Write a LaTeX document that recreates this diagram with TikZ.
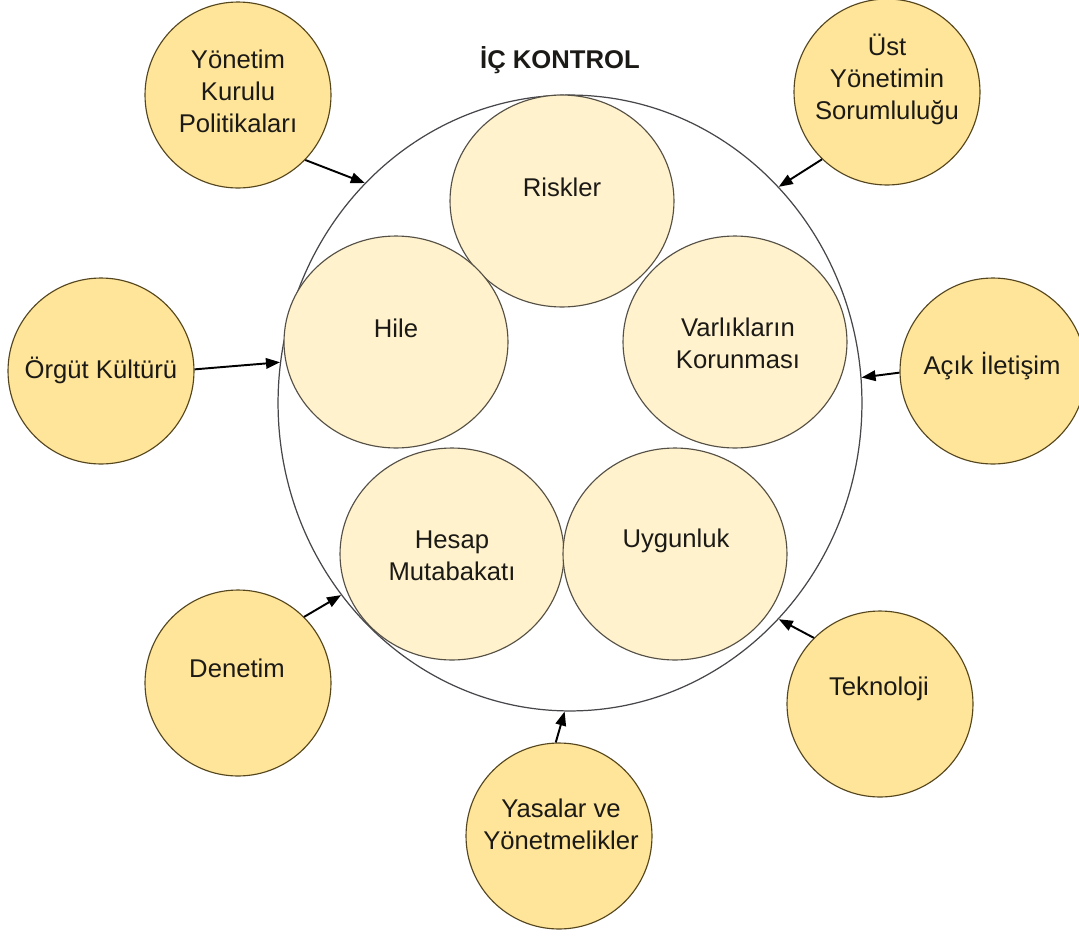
\documentclass[tikz,border=0pt]{standalone}
\usepackage{fontspec}
\setmainfont{Liberation Sans}
\usetikzlibrary{arrows.meta,shapes.geometric}
\definecolor{outerfill}{RGB}{255,229,153}
\definecolor{outerline}{RGB}{85,70,30}
\definecolor{innerfill}{RGB}{255,242,204}
\definecolor{innerline}{RGB}{85,80,70}
\definecolor{bigline}{RGB}{70,70,75}
\definecolor{txt}{RGB}{28,26,22}
\begin{document}
\begin{tikzpicture}[x=0.02cm,y=-0.02cm,
  factor/.style={circle,draw=outerline,fill=outerfill,line width=0.65pt,minimum size=3.72cm,inner sep=0pt},
  area/.style={ellipse,draw=innerline,fill=innerfill,line width=0.65pt,minimum width=4.48cm,minimum height=4.24cm,inner sep=0pt},
  lbl/.style={font=\fontsize{14.6}{18.2}\selectfont,text=txt,align=center,inner sep=0pt},
  arr/.style={-{Triangle[length=8pt,width=6pt]},line width=1.1pt,black}
]
\useasboundingbox (0,0) rectangle (1079,937);

% title
\node[lbl,font=\fontsize{14.6}{18.2}\selectfont\bfseries] (title) at (560,60) {İÇ KONTROL};

% the internal control boundary
\node[ellipse,draw=bigline,line width=0.7pt,minimum width=11.68cm,minimum height=12.32cm,inner sep=0pt] (ic) at (570,403) {};

% inner components
\node[area] (risk) at (562,201) {};
\node[area] (hile) at (396,342) {};
\node[area] (varl) at (735,342) {};
\node[area] (hesap) at (452,554) {};
\node[area] (uyg) at (675,554) {};

\node[lbl] (tRisk) at (562,187) {Riskler};
\node[lbl] (tHile) at (396,328) {Hile};
\node[lbl] (tVarl) at (738,343) {Varlıkların\\Korunması};
\node[lbl] (tHesap) at (452,556) {Hesap\\Mutabakatı};
\node[lbl] (tUyg) at (676,541) {Uygunluk};

% external factors
\node[factor] (yon) at (238,95) {};
\node[factor] (ust) at (887,92) {};
\node[factor] (org) at (101,371) {};
\node[factor] (acik) at (993,371) {};
\node[factor] (den) at (238,683) {};
\node[factor] (tek) at (880,704) {};
\node[factor] (yas) at (559,836) {};

\node[lbl] (tYon) at (238,91) {Yönetim\\Kurulu\\Politikaları};
\node[lbl] (tUst) at (887,79) {Üst\\Yönetimin\\Sorumluluğu};
\node[lbl] (tOrg) at (101,370) {Örgüt Kültürü};
\node[lbl] (tAcik) at (992,366) {Açık İletişim};
\node[lbl] (tDen) at (237,668) {Denetim};
\node[lbl] (tTek) at (879,689) {Teknoloji};
\node[lbl] (tYas) at (561,824) {Yasalar ve\\Yönetmelikler};

% influences on internal control
\draw[arr] (yon.-44) -- (ic.133.5);
\draw[arr] (ust.-134.6) -- (ic.46.2);
\draw[arr] (org.1) -- (ic.172.8);
\draw[arr] (acik.181) -- (ic.5.8);
\draw[arr] (den.45) -- (ic.220.6);
\draw[arr] (tek.135.4) -- (ic.-46.6);
\draw[arr] (yas.92) -- (ic.-91);
\end{tikzpicture}
\end{document}
